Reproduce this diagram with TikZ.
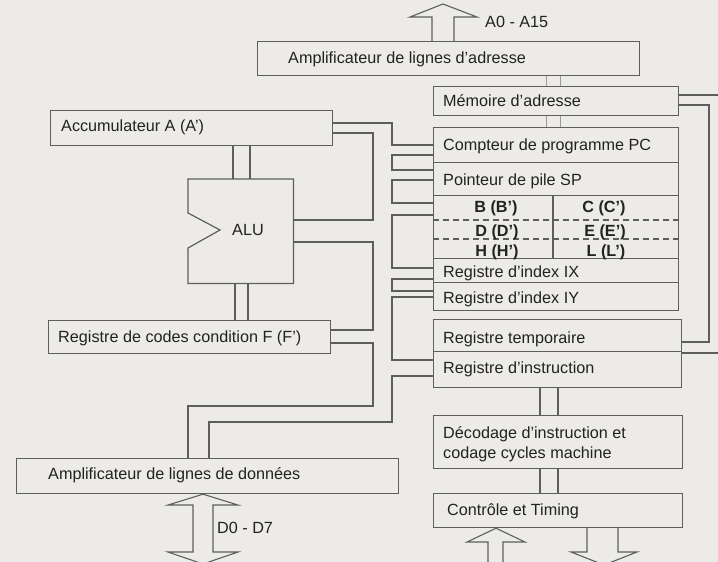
\documentclass[tikz,border=0pt]{standalone}
\usepackage{fontspec}
\setmainfont{Liberation Sans}
\definecolor{paper}{HTML}{ECEBE7}
\definecolor{ink}{HTML}{5E5E5E}
\definecolor{faint}{HTML}{9A9A9A}
\definecolor{txt}{HTML}{222222}
\newcommand{\fs}{\fontsize{16.2}{19}\selectfont}
\tikzset{
  box/.style={draw=ink, line width=1.2pt, inner sep=0pt, anchor=north west},
  hold/.style={inner sep=0pt, anchor=north west},
  wire/.style={draw=ink, line width=1.1pt, line join=miter},
  faintwire/.style={draw=faint, line width=0.9pt},
  lbl/.style={inner sep=0pt, anchor=base west, font=\fs, text=txt},
  blbl/.style={inner sep=0pt, anchor=base, font=\fs\bfseries, text=txt},
  bigarrow/.style={draw=ink, line width=1.1pt, line join=miter},
  regdash/.style={draw=ink, line width=1.1pt, dash pattern=on 6pt off 4pt}
}
\begin{document}
\begin{tikzpicture}[x=1pt,y=-1pt]
\fill[paper] (0,0) rectangle (718,562);
\useasboundingbox (0,0) rectangle (718,562);

% ---------- right column boxes ----------
\node[box, minimum width=382, minimum height=34] (addr) at (257,41) {};
\node[lbl] (taddr) at (288,63.5) {Amplificateur de lignes d'adresse};
\node[lbl] (ta015) at (485,27.5) {A0 - A15};

\node[box, minimum width=245, minimum height=29] (mem) at (433,86) {};
\node[lbl] (tmem) at (443,106) {Mémoire d'adresse};

\node[box, minimum width=245, minimum height=35] (pc) at (433,127) {};
\node[lbl] (tpc) at (443,150) {Compteur de programme PC};
\node[box, minimum width=245, minimum height=33] (sp) at (433,162) {};
\node[lbl] (tsp) at (443,185) {Pointeur de pile SP};
\node[box, minimum width=245, minimum height=63] (regs) at (433,195) {};
\node[box, minimum width=245, minimum height=24] (ix) at (433,258) {};
\node[lbl] (tix) at (443,277) {Registre d'index IX};
\node[box, minimum width=245, minimum height=28] (iy) at (433,282) {};
\node[lbl] (tiy) at (443,303) {Registre d'index IY};

\draw[wire] (regs.north -| 553,0) -- (regs.south -| 553,0);
\draw[regdash] (regs.west |- 0,220) -- (regs.east |- 0,220);
\draw[regdash] (regs.west |- 0,239) -- (regs.east |- 0,239);
\node[blbl] (tb) at (496,212.5) {B (B')};
\node[blbl] (tc) at (604,212.5) {C (C')};
\node[blbl] (td) at (497,236.5) {D (D')};
\node[blbl] (te) at (605,236.5) {E (E')};
\node[blbl] (th) at (497,256) {H (H')};
\node[blbl] (tl) at (606,256) {L (L')};

\node[box, minimum width=248, minimum height=32] (rtemp) at (433,319) {};
\node[lbl] (trtemp) at (443,343) {Registre temporaire};
\node[box, minimum width=248, minimum height=36] (rinstr) at (433,351) {};
\node[lbl] (trinstr) at (443,373) {Registre d'instruction};

\node[box, minimum width=249, minimum height=53] (dec) at (433,415) {};
\node[lbl] (tdec1) at (443,438) {Décodage d'instruction et};
\node[lbl] (tdec2) at (443,458) {codage cycles machine};

\node[box, minimum width=249, minimum height=34] (ctrl) at (433,493) {};
\node[lbl] (tctrl) at (447,515.5) {Contrôle et Timing};

% ---------- left column boxes ----------
\node[box, minimum width=282, minimum height=35] (acc) at (50,110) {};
\node[lbl] (tacc) at (61,131.5) {Accumulateur A (A')};

\node[hold, minimum width=105, minimum height=104] (alu) at (188,179) {};
\draw[box] (alu.north west) -- (alu.north east) -- (alu.south east) -- (alu.south west)
  -- (188,248) -- (220,230) -- (188,213) -- cycle;
\node[lbl] (talu) at (232,235) {ALU};

\node[box, minimum width=282, minimum height=33] (fr) at (48,320) {};
\node[lbl] (tfr) at (58,342) {Registre de codes condition F (F')};

\node[box, minimum width=382, minimum height=35] (damp) at (16,458) {};
\node[lbl] (tdamp) at (48,479) {Amplificateur de lignes de données};
\node[lbl] (td07) at (217,533) {D0 - D7};

% ---------- short vertical links ----------
\draw[faintwire] (addr.south -| 546,0) -- (mem.north -| 546,0);
\draw[faintwire] (addr.south -| 560,0) -- (mem.north -| 560,0);
\draw[faintwire] (mem.south -| 546,0) -- (pc.north -| 546,0);
\draw[faintwire] (mem.south -| 560,0) -- (pc.north -| 560,0);
\draw[wire] (acc.south -| 233,0) -- (alu.north -| 233,0);
\draw[wire] (acc.south -| 250,0) -- (alu.north -| 250,0);
\draw[wire] (alu.south -| 235,0) -- (fr.north -| 235,0);
\draw[wire] (alu.south -| 248,0) -- (fr.north -| 248,0);
\draw[wire] (rinstr.south -| 540,0) -- (dec.north -| 540,0);
\draw[wire] (rinstr.south -| 558,0) -- (dec.north -| 558,0);
\draw[wire] (dec.south -| 540,0) -- (ctrl.north -| 540,0);
\draw[wire] (dec.south -| 558,0) -- (ctrl.north -| 558,0);

% ---------- internal data bus, left line ----------
\draw[wire] (acc.east |- 0,133) -- (373,133) -- (373,220) -- (alu.east |- 0,220);
\draw[wire] (alu.east |- 0,242) -- (373,242) -- (373,330) -- (fr.east |- 0,330);
\draw[wire] (fr.east |- 0,343) -- (373,343) -- (373,406) -- (188,406) -- (damp.north -| 188,0);

% ---------- internal data bus, right line ----------
\draw[wire] (acc.east |- 0,123) -- (392,123) -- (392,145) -- (pc.west |- 0,145);
\draw[wire] (pc.west |- 0,155) -- (392,155) -- (392,170) -- (sp.west |- 0,170);
\draw[wire] (sp.west |- 0,180) -- (392,180) -- (392,203) -- (regs.west |- 0,203);
\draw[wire] (regs.west |- 0,215) -- (392,215) -- (392,268) -- (ix.west |- 0,268);
\draw[wire] (ix.west |- 0,279) -- (392,279) -- (392,291) -- (iy.west |- 0,291);
\draw[wire] (iy.west |- 0,297) -- (392,297) -- (392,360) -- (rinstr.west |- 0,360);
\draw[wire] (rinstr.west |- 0,376) -- (392,376) -- (392,422) -- (209,422) -- (damp.north -| 209,0);

% ---------- right loop ----------
\draw[wire] (mem.east |- 0,95) -- (718,95);
\draw[wire] (mem.east |- 0,105) -- (709,105) -- (709,342) -- (rtemp.east |- 0,342);
\draw[wire] (rtemp.east |- 0,353) -- (718,353);

% ---------- hollow arrows ----------
\draw[bigarrow] (addr.north -| 432,0) -- (432,17) -- (410,17) -- (443,4) -- (477,17)
  -- (454,17) -- (addr.north -| 454,0);
\draw[bigarrow] (193,505) -- (193,552) -- (168,552) -- (203,564) -- (238,552) -- (213,552)
  -- (213,505) -- (238,505) -- (damp.south -| 203,0) -- (168,505) -- cycle;
\draw[bigarrow] (488,563) -- (488,542) -- (467,542) -- (ctrl.south -| 496,0) -- (525,542)
  -- (503,542) -- (503,563);
\draw[bigarrow] (ctrl.south -| 587,0) -- (587,552) -- (571,552) -- (604,565) -- (637,552)
  -- (618,552) -- (ctrl.south -| 618,0);
\end{tikzpicture}
\end{document}
